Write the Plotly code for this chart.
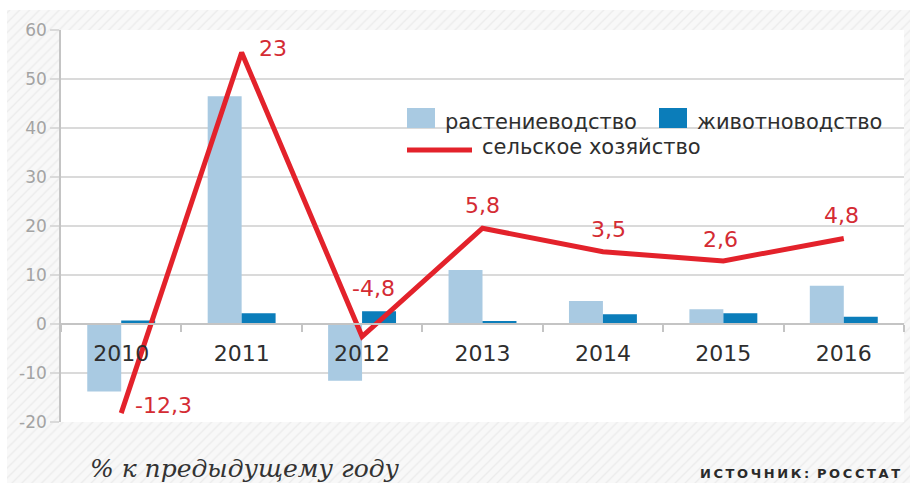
import plotly.graph_objects as go

# ---- data -------------------------------------------------------------
years = ["2010", "2011", "2012", "2013", "2014", "2015", "2016"]
crop_growth = [-13.8, 46.5, -11.6, 11.0, 4.7, 3.0, 7.8]        # растениеводство
livestock_growth = [0.7, 2.2, 2.6, 0.6, 2.0, 2.2, 1.5]         # животноводство
agriculture_growth = [-12.3, 23, -4.8, 5.8, 3.5, 2.6, 4.8]     # сельское хозяйство
y_tick_values = [-20, -10, 0, 10, 20, 30, 40, 50, 60]
y_tick_labels = ["-20", "-10", "0", "10", "20", "30", "40", "50", "60"]

# ---- styling ----------------------------------------------------------
W, H = 910, 483
LIGHT = "#a9cae2"
DARK = "#0b7dba"
RED = "#e3222b"
LABEL_RED = "#d42b33"
TEXT = "#2e2e2e"
GRID = "#dadada"
FONT = "DejaVu Sans"


def fx(x):
    """pixel column -> paper x"""
    return x / W


def fy(y):
    """pixel row -> paper y"""
    return 1 - y / H


# the line lives on its own hidden scale: left_axis = K * value + B
K, B = 2.085, 7.454
Y_MIN, Y_MAX = -20, 60
line_range = [(Y_MIN - B) / K, (Y_MAX - B) / K]

# label offsets for the line values (xshift, yshift, xanchor)
label_offsets = [(12, 8, "left"), (15, 4, "left"), (11, 48, "center"),
                 (0, 23, "center"), (6, 22, "center"), (-3, 21, "center"),
                 (-2, 23, "center")]

fig = go.Figure()

# hatched frame around the plotting area
frame_x, frame_y = [], []
for x0, x1, y0, y1 in [(7, 910, 10, 31), (7, 910, 422, 483),
                       (7, 61, 31, 422), (904, 910, 31, 422)]:
    frame_x += [x0, x1, x1, x0, x0, None]
    frame_y += [y0, y0, y1, y1, y0, None]
fig.add_trace(go.Scatter(
    x=frame_x, y=frame_y, xaxis="x", yaxis="y", mode="lines",
    line=dict(width=0), fill="toself", fillcolor="#f6f6f6",
    fillpattern=dict(shape="/", size=7, solidity=0.18,
                     fgcolor="#dddddd", bgcolor="#f8f8f8"),
    hoverinfo="skip", showlegend=False,
))

fig.add_trace(go.Bar(
    x=years, y=crop_growth, name="растениеводство",
    marker=dict(color=LIGHT, line=dict(width=0)),
    xaxis="x2", yaxis="y2", showlegend=False,
))
fig.add_trace(go.Bar(
    x=years, y=livestock_growth, name="животноводство",
    marker=dict(color=DARK, line=dict(width=0)),
    xaxis="x2", yaxis="y2", showlegend=False,
))
fig.add_trace(go.Scatter(
    x=years, y=agriculture_growth, name="сельское хозяйство",
    mode="lines", line=dict(color=RED, width=5),
    xaxis="x2", yaxis="y3", showlegend=False,
))

# value labels for the line (category axis positions are serial indices)
annotations = []
for i, (v, (dx, dy, anchor)) in enumerate(zip(agriculture_growth, label_offsets)):
    annotations.append(dict(
        x=i, y=v, xref="x2", yref="y3", text=f"{v:g}".replace(".", ","),
        showarrow=False, xanchor=anchor, yanchor="middle",
        xshift=dx, yshift=dy,
        font=dict(family=FONT, size=22, color=LABEL_RED),
    ))

# legend
shapes = [
    dict(type="rect", xref="paper", yref="paper", x0=fx(407), x1=fx(435),
         y0=fy(128), y1=fy(108), fillcolor=LIGHT, line=dict(width=0)),
    dict(type="rect", xref="paper", yref="paper", x0=fx(659), x1=fx(687),
         y0=fy(128), y1=fy(108), fillcolor=DARK, line=dict(width=0)),
    dict(type="line", xref="paper", yref="paper", x0=fx(407), x1=fx(472),
         y0=fy(150), y1=fy(150), line=dict(color=RED, width=5)),
]
for text, x, y in [("растениеводство", 443, 122),
                   ("животноводство", 695, 122),
                   ("сельское хозяйство", 480, 147)]:
    annotations.append(dict(
        x=fx(x), y=fy(y), xref="paper", yref="paper", text=text,
        showarrow=False, xanchor="left", yanchor="middle",
        font=dict(family=FONT, size=21, color=TEXT),
    ))

annotations.append(dict(
    x=fx(88), y=fy(468), xref="paper", yref="paper",
    text="% к предыдущему году", showarrow=False,
    xanchor="left", yanchor="middle",
    font=dict(family="DejaVu Serif", size=25, color="#333333", style="italic"),
))
annotations.append(dict(
    x=fx(902), y=fy(473), xref="paper", yref="paper",
    text="\u2009".join("ИСТОЧНИК:") + "\u2009\u2009\u2009" + "\u2009".join("РОССТАТ"),
    showarrow=False, xanchor="right", yanchor="middle",
    font=dict(family=FONT, size=13, color="#2a2a2a", weight="bold"),
))

fig.update_layout(
    width=W, height=H,
    margin=dict(l=0, r=0, t=0, b=0, pad=0, autoexpand=False),
    paper_bgcolor="#ffffff",
    plot_bgcolor="#ffffff",
    barmode="group", bargap=0.436, bargroupgap=0,
    showlegend=False,
    xaxis=dict(domain=[0, 1], range=[0, W], visible=False, fixedrange=True),
    yaxis=dict(domain=[0, 1], range=[H, 0], visible=False, fixedrange=True),
    xaxis2=dict(
        domain=[fx(61), fx(904)], anchor="free", position=fy(324),
        type="category", range=[-0.5, 6.5],
        showline=True, linecolor="#c4c4c4", linewidth=2,
        ticks="outside", tickson="boundaries", ticklen=7,
        tickcolor="#c4c4c4", tickwidth=1.5, ticklabelstandoff=10,
        showgrid=False,
        tickfont=dict(family=FONT, size=22, color=TEXT),
    ),
    yaxis2=dict(
        domain=[fy(422), fy(30)], anchor="x2", range=[Y_MIN, Y_MAX],
        tickvals=y_tick_values, ticktext=y_tick_labels,
        showline=True, linecolor="#c4c4c4", linewidth=1.5,
        ticks="outside", ticklen=9, tickcolor=GRID, tickwidth=1.5,
        showgrid=True, gridcolor=GRID, gridwidth=1.5, zeroline=False,
        tickfont=dict(family=FONT, size=17, color="#a3a3a3"),
    ),
    yaxis3=dict(
        overlaying="y2", anchor="x2", range=line_range,
        showgrid=False, zeroline=False, showline=False,
        showticklabels=False, ticks="",
    ),
    shapes=shapes,
    annotations=annotations,
)

fig.write_html("out.html")
